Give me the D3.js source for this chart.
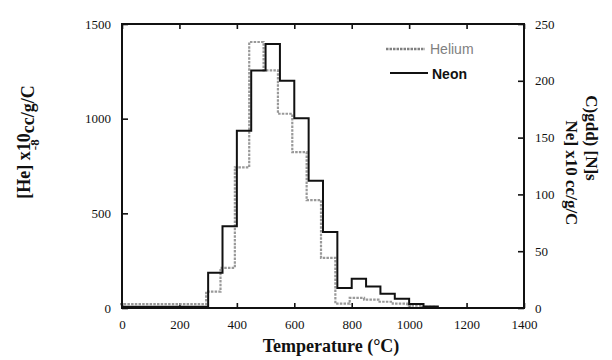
<!DOCTYPE html>
<html><head><meta charset="utf-8">
<script src="https://cdn.jsdelivr.net/npm/d3@7"></script>
<style>body{margin:0;background:#fff}</style>
</head><body>
<svg id="chart" width="612" height="360"></svg>
<script>
// Step release data, 50 °C bins (bin start temperatures)
const binStarts = [0,50,100,150,200,250,300,350,400,450,500,550,600,650,700,750,800,850,900,950,1000,1050,1100];
// [He] x10^-8 cc/g/C (left axis)
const helium = [20,20,20,20,20,20,87,212,743,1405,1255,1026,823,570,265,23,53,44,33,23,12,6,0];
// [Ne] (right axis)
const neon = [1,1,1,1,1,1.2,31,72,156,209,232.5,200,167,112,67,17.5,25.7,19,12.5,8.2,3.5,1.3,0];
const xTicks = [0,200,400,600,800,1000,1200,1400];
const leftTicks = [0,500,1000,1500];
const rightTicks = [0,50,100,150,200,250];

const svg = d3.select("#chart");
const x = d3.scaleLinear().domain([0,1400]).range([122,524]);
const yL = d3.scaleLinear().domain([0,1500]).range([308,24]);
const yR = d3.scaleLinear().domain([0,250]).range([308,24]);

const serif = "'Liberation Serif','Times New Roman',serif";
const sans = "'Liberation Sans',Arial,sans-serif";

function styleAxis(g){
  g.select(".domain").remove();
  g.selectAll(".tick line").attr("stroke","#111").attr("stroke-width",1.6);
  g.selectAll(".tick text").attr("font-family",serif).attr("font-size",13).attr("fill","#111");
}

svg.append("g").attr("transform","translate(0,308)")
  .call(d3.axisBottom(x).tickValues(xTicks).tickSize(-5).tickPadding(12).tickFormat(d3.format("d")))
  .call(styleAxis);
svg.append("g").attr("transform","translate(0,24)")
  .call(d3.axisTop(x).tickValues(xTicks).tickSize(-5).tickFormat(""))
  .call(styleAxis);
svg.append("g").attr("transform","translate(122,0)")
  .call(d3.axisLeft(yL).tickValues(leftTicks).tickSize(-6).tickPadding(11).tickFormat(d3.format("d")))
  .call(styleAxis);
svg.append("g").attr("transform","translate(524,0)")
  .call(d3.axisRight(yR).tickValues(rightTicks).tickSize(-6).tickPadding(11).tickFormat(d3.format("d")))
  .call(styleAxis);

// step outlines
const heData = binStarts.map((t,i)=>({t, v: helium[i]})).concat([{t:1400, v:0}]);
const neData = binStarts.map((t,i)=>({t, v: neon[i]})).concat([{t:1400, v:0}]);

svg.append("path").datum(heData)
  .attr("transform","translate(-2,0)")
  .attr("fill","none").attr("stroke","#999").attr("stroke-width",2.2)
  .attr("stroke-dasharray","2.5,1.2")
  .attr("d", d3.line().x(d=>x(d.t)).y(d=>yL(d.v)).curve(d3.curveStepAfter));

svg.append("path").datum(neData)
  .attr("fill","none").attr("stroke","#111").attr("stroke-width",2)
  .attr("d", d3.line().x(d=>x(d.t)).y(d=>yR(d.v)).curve(d3.curveStepAfter));

// frame
svg.append("rect").attr("x",122).attr("y",24).attr("width",402).attr("height",284)
  .attr("fill","none").attr("stroke","#111").attr("stroke-width",2);

// legend
const leg = svg.append("g");
leg.append("line").attr("x1",386).attr("x2",425).attr("y1",49).attr("y2",49)
  .attr("stroke","#808080").attr("stroke-width",2.4).attr("stroke-dasharray","2.5,1");
leg.append("text").attr("x",430).attr("y",54).text("Helium")
  .attr("font-family",sans).attr("font-size",14).attr("fill","#808080");
leg.append("line").attr("x1",390).attr("x2",428).attr("y1",73).attr("y2",73)
  .attr("stroke","#111").attr("stroke-width",2);
leg.append("text").attr("x",432).attr("y",79).text("Neon")
  .attr("font-family",sans).attr("font-size",14).attr("font-weight","bold").attr("fill","#111");

// axis titles
svg.append("text").attr("x",331).attr("y",352).attr("text-anchor","middle")
  .attr("font-family",serif).attr("font-size",18).attr("font-weight","bold").attr("fill","#111")
  .text("Temperature (°C)");

const yt = svg.append("text").attr("transform","translate(30,142) rotate(-90)")
  .attr("text-anchor","middle").attr("font-family",serif).attr("font-size",18)
  .attr("font-weight","bold").attr("fill","#111");
yt.append("tspan").text("[He] x10");
yt.append("tspan").attr("dx",-17).attr("dy",9).attr("font-size",13).text("-8");
yt.append("tspan").attr("dx",6).attr("dy",-5).text("cc/g/C");

const rt = svg.append("text").attr("transform","translate(566,173) rotate(90)")
  .attr("text-anchor","middle").attr("font-family",serif).attr("font-size",17)
  .attr("font-weight","bold").attr("fill","#111");
rt.text("Ne] x10 cc/g/C");

const rt2 = svg.append("text").attr("transform","translate(586,138) rotate(90)")
  .attr("text-anchor","middle").attr("font-family",serif).attr("font-size",17)
  .attr("font-weight","bold").attr("fill","#111");
rt2.text("C)gdd) [N]s");
</script>
</body></html>
